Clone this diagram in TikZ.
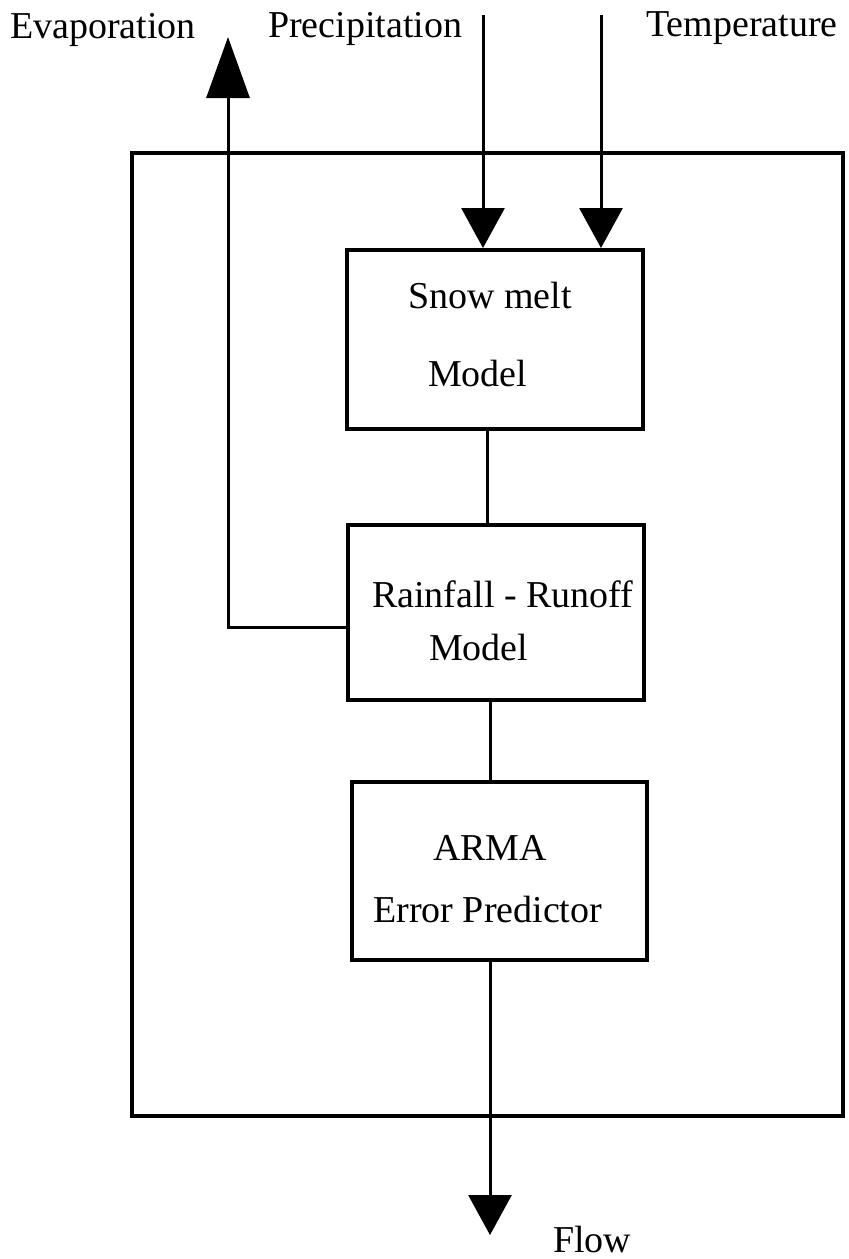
\documentclass[tikz,border=0pt]{standalone}
\usepackage{fontspec}
\setmainfont{Liberation Serif}
\usetikzlibrary{arrows.meta}
\begin{document}
\begin{tikzpicture}[x=1pt,y=-1pt,
  box/.style={draw, line width=4pt, inner sep=0pt},
  lbl/.style={inner sep=0pt, anchor=base west, font=\fontsize{38}{44}\selectfont},
  link/.style={line width=3pt},
  arr/.style={line width=3pt, -{Triangle[length=40pt,width=43pt]}},
  evarr/.style={line width=3pt, -{Triangle[length=61pt,width=43pt]}},
]
\useasboundingbox (0,0) rectangle (849,1259);
% boxes
\node[box, minimum width=711pt, minimum height=963pt] (frame) at (487.5,634.5) {};
\node[box, minimum width=296pt, minimum height=179pt] (snow) at (495,339.5) {};
\node[box, minimum width=296pt, minimum height=175pt] (rain) at (496,612.5) {};
\node[box, minimum width=295pt, minimum height=178pt] (arma) at (499.5,871) {};
% texts
\node[lbl] (tsnow1) at (408,308) {Snow melt};
\node[lbl] (tsnow2) at (428,386) {Model};
\node[lbl] (train1) at (372,607) {Rainfall - Runoff};
\node[lbl] (train2) at (429,660) {Model};
\node[lbl] (tarma1) at (433,860) {ARMA};
\node[lbl] (tarma2) at (373,922) {Error Predictor};
\node[lbl] (tevap) at (10,38) {Evaporation};
\node[lbl] (tprec) at (268,37) {Precipitation};
\node[lbl] (ttemp) at (646,36) {Temperature};
\node[lbl] (tflow) at (553,1252) {Flow};
% coordinates
\coordinate (pin) at (483,15);
\coordinate (tin) at (601,15);
\coordinate (evtop) at (228,37);
\coordinate (evcorner) at (228,627);
\coordinate (flowend) at (490,1235);
\coordinate (c1) at (487,0);
\coordinate (c2) at (490,0);
% connectors
\draw[arr] (pin) -- (pin |- snow.north);
\draw[arr] (tin) -- (tin |- snow.north);
\draw[link] (snow.south -| c1) -- (rain.north -| c1);
\draw[link] (rain.south -| c2) -- (arma.north -| c2);
\draw[evarr] (rain.west |- evcorner) -- (evcorner) -- (evtop);
\draw[arr] (arma.south -| c2) -- (flowend);
\end{tikzpicture}
\end{document}
